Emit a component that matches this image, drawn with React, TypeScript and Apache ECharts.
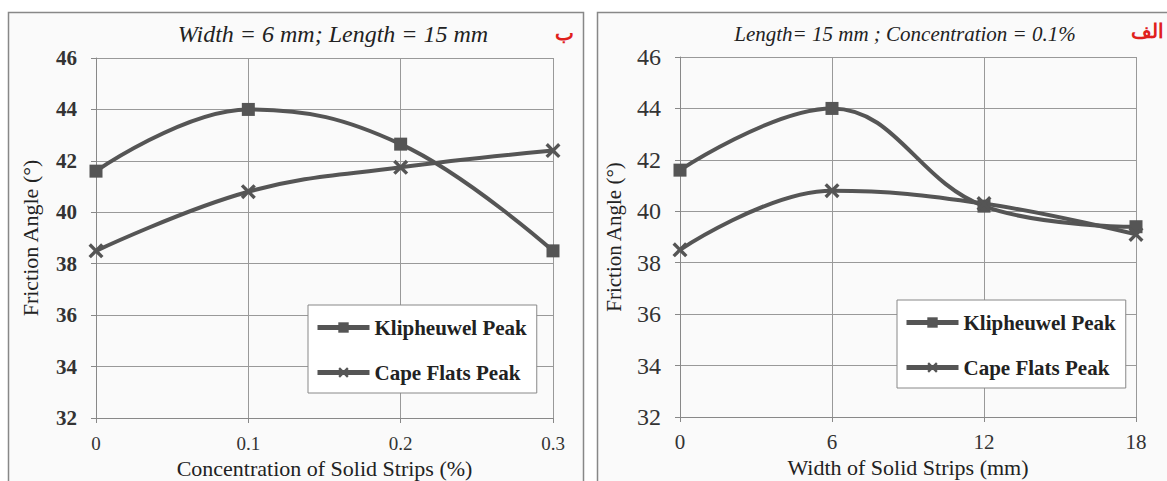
import React, { useEffect, useRef } from "react";
import * as echarts from "echarts";

// ---- data ----
const concentration = [0, 0.1, 0.2, 0.3];
const stripWidth = [0, 6, 12, 18];
const klipheuwelByConc = [41.6, 44.0, 42.65, 38.5];
const capeFlatsByConc = [38.5, 40.8, 41.75, 42.4];
const klipheuwelByWidth = [41.6, 44.0, 40.2, 39.4];
const capeFlatsByWidth = [38.5, 40.8, 40.3, 39.1];
const seriesNames = ["Klipheuwel Peak", "Cape Flats Peak"];
const leftTitle = "Width = 6 mm; Length = 15 mm";
const rightTitle = "Length= 15 mm ; Concentration = 0.1%";
const leftTag = "ب";
const rightTag = "الف";
const yName = "Friction Angle (°)";
const leftXName = "Concentration of Solid Strips (%)";
const rightXName = "Width of Solid Strips (mm)";

const LINE = "#555555";
const FONT = "Liberation Serif";
const CROSS =
  "path://M0,1.6L1.6,0L5,3.4L8.4,0L10,1.6L6.6,5L10,8.4L8.4,10L5,6.6L1.6,10L0,8.4L3.4,5Z";

const pairs = (xs: number[], ys: number[]) => xs.map((x, i) => [x, ys[i]]);

export default function App() {
  const ref = useRef<HTMLDivElement>(null);
  useEffect(() => {
    if (!ref.current) return;
    const chart = echarts.init(ref.current, undefined, { renderer: "svg" });

    const xAxisBase = (gridIndex: number, max: number, interval: number, name: string, labelSize: number, nameSize: number, nameGap: number, labelMargin: number) => ({
      type: "value",
      gridIndex,
      min: 0,
      max,
      interval,
      name,
      nameLocation: "middle",
      nameGap,
      nameTextStyle: { fontFamily: FONT, fontSize: nameSize, color: "#222", lineHeight: nameSize },
      axisLine: { show: true, lineStyle: { color: "#888", width: 1 } },
      axisTick: { show: true, length: 5, lineStyle: { color: "#888" } },
      axisLabel: { fontFamily: FONT, fontSize: labelSize, color: "#333", margin: labelMargin },
      splitLine: { show: true, lineStyle: { color: "#999", width: 1 } },
    });
    const yAxisBase = (gridIndex: number, labelSize: number, nameSize: number, nameGap: number, bold: boolean) => ({
      type: "value",
      gridIndex,
      min: 32,
      max: 46,
      interval: 2,
      name: yName,
      nameLocation: "middle",
      nameGap,
      nameTextStyle: { fontFamily: FONT, fontSize: nameSize, color: "#222" },
      axisLine: { show: true, lineStyle: { color: "#888", width: 1 } },
      axisTick: { show: true, length: 5, lineStyle: { color: "#888" } },
      axisLabel: { fontFamily: FONT, fontSize: labelSize, color: "#333", margin: 19, fontWeight: bold ? "bold" : "normal" },
      splitLine: { show: true, lineStyle: { color: "#999", width: 1 } },
    });

    const lineSeries = (name: string, xi: number, data: number[][], cross: boolean) => ({
      type: "line",
      name,
      xAxisIndex: xi,
      yAxisIndex: xi,
      data,
      smooth: 0.4,
      symbol: cross ? CROSS : "rect",
      symbolSize: cross ? 15 : 13,
      lineStyle: { color: LINE, width: 4 },
      itemStyle: { color: LINE },
      z: 3,
    });

    const legend = (left: number, top: number) => ({
      orient: "vertical",
      left,
      top,
      data: seriesNames,
      itemWidth: 52,
      itemHeight: 13,
      itemGap: 24,
      padding: [12, 10, 10, 7],
      borderColor: "#888",
      borderWidth: 1,
      backgroundColor: "#ffffff",
      lineStyle: { width: 5, color: LINE },
      textStyle: { fontFamily: FONT, fontSize: 21, fontWeight: "bold", color: "#222", lineHeight: 20 },
      selectedMode: false,
    });

    chart.setOption({
      animation: false,
      backgroundColor: "#ffffff",
      grid: [
        { left: 96, top: 58, width: 457, height: 360, containLabel: false, outerBoundsMode: "none" },
        { left: 680, top: 57, width: 456, height: 360, containLabel: false, outerBoundsMode: "none" },
      ],
      xAxis: [
        xAxisBase(0, 0.3, 0.1, leftXName, 19, 22, 33, 16),
        xAxisBase(1, 18, 6, rightXName, 21, 22, 35, 14),
      ],
      yAxis: [yAxisBase(0, 21, 22, 55, true), yAxisBase(1, 24, 21, 56, false)],
      legend: [legend(308, 305), legend(897, 300)],
      series: [
        lineSeries(seriesNames[0], 0, pairs(concentration, klipheuwelByConc), false),
        lineSeries(seriesNames[1], 0, pairs(concentration, capeFlatsByConc), true),
        lineSeries(seriesNames[0], 1, pairs(stripWidth, klipheuwelByWidth), false),
        lineSeries(seriesNames[1], 1, pairs(stripWidth, capeFlatsByWidth), true),
      ],
      graphic: [
        {
          type: "rect",
          z: -10,
          shape: { x: 8.5, y: 12.5, width: 575, height: 480 },
          style: { fill: "#fafafa", stroke: "#888", lineWidth: 1.5 },
          silent: true,
        },
        {
          type: "rect",
          z: -10,
          shape: { x: 597.5, y: 12.5, width: 600, height: 480 },
          style: { fill: "#fafafa", stroke: "#888", lineWidth: 1.5 },
          silent: true,
        },
        {
          type: "text",
          x: 333,
          y: 34,
          style: { text: leftTitle, font: `italic 24px ${FONT}`, fill: "#222", textAlign: "center", textVerticalAlign: "middle" },
        },
        {
          type: "text",
          x: 905,
          y: 34,
          style: { text: rightTitle, font: `italic 21px ${FONT}`, fill: "#222", textAlign: "center", textVerticalAlign: "middle" },
        },
        {
          type: "text",
          x: 564,
          y: 32,
          style: { text: leftTag, font: "bold 20px Noto Sans", fill: "#e0201c", textAlign: "center", textVerticalAlign: "middle" },
        },
        {
          type: "text",
          x: 1147,
          y: 30,
          style: { text: rightTag, font: "bold 20px Noto Sans", fill: "#e0201c", textAlign: "center", textVerticalAlign: "middle" },
        },
      ],
    });
    return () => chart.dispose();
  }, []);
  return <div ref={ref} style={{ position: "fixed", left: 0, top: 0, width: 1167, height: 481 }} />;
}
